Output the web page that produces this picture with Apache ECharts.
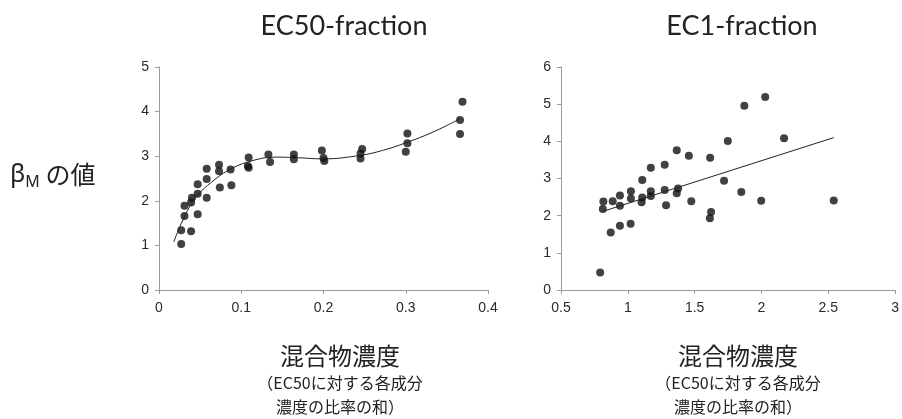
<!DOCTYPE html>
<html>
<head>
<meta charset="utf-8">
<script src="https://cdn.jsdelivr.net/npm/echarts@6/dist/echarts.min.js"></script>
<style>
  html, body { margin: 0; padding: 0; background: #fff; }
  #chart { width: 902px; height: 419px; }
</style>
</head>
<body>
<div id="chart"></div>
<script>
// EC50-fraction: measured points
var ec50X = [0.027, 0.027, 0.031, 0.031, 0.039, 0.039, 0.040, 0.047, 0.047, 0.047,
             0.058, 0.058, 0.058, 0.073, 0.073, 0.074, 0.087, 0.088, 0.109, 0.108,
             0.109, 0.133, 0.135, 0.164, 0.164, 0.198, 0.200, 0.201, 0.247, 0.245,
             0.245, 0.300, 0.302, 0.302, 0.366, 0.366, 0.369];
var ec50Y = [1.03, 1.34, 1.66, 1.89, 1.32, 1.96, 2.07, 1.70, 2.16, 2.37,
             2.07, 2.49, 2.72, 2.81, 2.66, 2.30, 2.70, 2.35, 2.97, 2.78,
             2.74, 3.04, 2.87, 3.04, 2.93, 3.13, 2.96, 2.89, 3.16, 3.06,
             2.95, 3.10, 3.29, 3.51, 3.81, 3.50, 4.22];
// EC50-fraction: trend curve
var ec50TrendX = [0.018, 0.027, 0.037, 0.047, 0.064, 0.084, 0.108, 0.141, 0.164,
                  0.200, 0.245, 0.272, 0.300, 0.333, 0.366];
var ec50TrendY = [1.08, 1.49, 1.86, 2.13, 2.42, 2.68, 2.87, 2.98, 2.97,
                  2.94, 3.02, 3.13, 3.30, 3.54, 3.84];

// EC1-fraction: measured points
var ec1X = [0.793, 0.813, 0.817, 0.872, 0.887, 0.941, 0.941, 0.941, 1.021, 1.023,
            1.023, 1.108, 1.108, 1.103, 1.172, 1.172, 1.172, 1.276, 1.276, 1.286,
            1.366, 1.376, 1.366, 1.457, 1.475, 1.616, 1.623, 1.614, 1.720, 1.748,
            1.849, 1.872, 1.998, 2.028, 2.169, 2.541];
var ec1Y = [0.47, 2.18, 2.38, 1.55, 2.39, 2.54, 2.27, 1.73, 1.78, 2.66,
            2.46, 2.96, 2.49, 2.36, 3.29, 2.66, 2.53, 3.37, 2.69, 2.28,
            3.76, 2.73, 2.60, 3.61, 2.39, 3.56, 2.10, 1.93, 2.94, 4.01,
            2.64, 4.96, 2.40, 5.19, 4.08, 2.41];
// EC1-fraction: linear trend end points
var ec1TrendX = [0.817, 2.541];
var ec1TrendY = [2.12, 4.10];

var titles = ['EC50-fraction', 'EC1-fraction'];
var xLabelLines = ['混合物濃度', '（EC50に対する各成分', '濃度の比率の和）'];

function pairs(xs, ys) {
    return xs.map(function (x, i) { return [x, ys[i]]; });
}

var axisLine = { lineStyle: { color: '#9a9a9a', width: 1 } };
var axisTick = { show: true, length: 4, lineStyle: { color: '#9a9a9a' } };
var axisLabel = { color: '#2a2a2a', fontFamily: 'Liberation Sans', fontSize: 14 };

function xAxis(idx, min, max, step) {
    return {
        type: 'value', gridIndex: idx, min: min, max: max, interval: step,
        axisLine: axisLine, axisTick: axisTick, splitLine: { show: false },
        axisLabel: Object.assign({ margin: 11 }, axisLabel)
    };
}
function yAxis(idx, min, max, step) {
    return {
        type: 'value', gridIndex: idx, min: min, max: max, interval: step,
        axisLine: { show: true, lineStyle: axisLine.lineStyle },
        axisTick: axisTick, splitLine: { show: false },
        axisLabel: Object.assign({ margin: 10 }, axisLabel)
    };
}

// three-line axis caption below each plot, centred on cx
function xLabel(cx) {
    return {
        type: 'text', x: cx, y: 340,
        style: {
            text: '{a|' + xLabelLines[0] + '}\n{b|' + xLabelLines[1] + '}\n{b|' + xLabelLines[2] + '}',
            align: 'center', verticalAlign: 'top',
            rich: {
                a: { fontFamily: 'Noto Sans CJK JP', fontSize: 24, lineHeight: 31, fill: '#222', align: 'center' },
                b: { fontFamily: 'Noto Sans CJK JP', fontSize: 16, lineHeight: 24, fill: '#222', align: 'center' }
            }
        }
    };
}

var chart = echarts.init(document.getElementById('chart'));

var option = {
    animation: false,
    backgroundColor: '#fff',
    title: [
        { text: titles[0], left: 339, top: 8, textAlign: 'center',
          textStyle: { fontFamily: 'Lato', fontWeight: 'normal', fontSize: 27, color: '#222' } },
        { text: titles[1], left: 737, top: 8, textAlign: 'center',
          textStyle: { fontFamily: 'Lato', fontWeight: 'normal', fontSize: 27, color: '#222' } }
    ],
    grid: [
        { left: 159, right: 414, top: 67, bottom: 129 },
        { left: 561, right: 5, top: 67, bottom: 129 }
    ],
    xAxis: [xAxis(0, 0, 0.4, 0.1), xAxis(1, 0.5, 3, 0.5)],
    yAxis: [yAxis(0, 0, 5, 1), yAxis(1, 0, 6, 1)],
    series: [
        {
            type: 'scatter', xAxisIndex: 0, yAxisIndex: 0,
            symbolSize: 8, itemStyle: { color: '#111' },
            data: pairs(ec50X, ec50Y)
        },
        {
            type: 'line', xAxisIndex: 0, yAxisIndex: 0,
            smooth: 0.4, showSymbol: false,
            lineStyle: { color: '#222', width: 1 },
            data: pairs(ec50TrendX, ec50TrendY)
        },
        {
            type: 'scatter', xAxisIndex: 1, yAxisIndex: 1,
            symbolSize: 8, itemStyle: { color: '#111' },
            data: pairs(ec1X, ec1Y)
        },
        {
            type: 'line', xAxisIndex: 1, yAxisIndex: 1,
            showSymbol: false,
            lineStyle: { color: '#222', width: 1 },
            data: pairs(ec1TrendX, ec1TrendY)
        }
    ],
    graphic: [
        {
            type: 'text', left: 10, top: 162,
            style: {
                text: '{b|β}{s|M}{j| の値}',
                rich: {
                    b: { fontFamily: 'Noto Sans', fontSize: 25, fill: '#222', lineHeight: 32 },
                    s: { fontFamily: 'Noto Sans', fontSize: 16, fill: '#222', verticalAlign: 'bottom', lineHeight: 32, padding: [12, 0, 0, 0] },
                    j: { fontFamily: 'Noto Sans CJK JP', fontSize: 25, fill: '#222', lineHeight: 32 }
                }
            }
        },
        xLabel(340),
        xLabel(738)
    ]
};

chart.setOption(option);
</script>
</body>
</html>
